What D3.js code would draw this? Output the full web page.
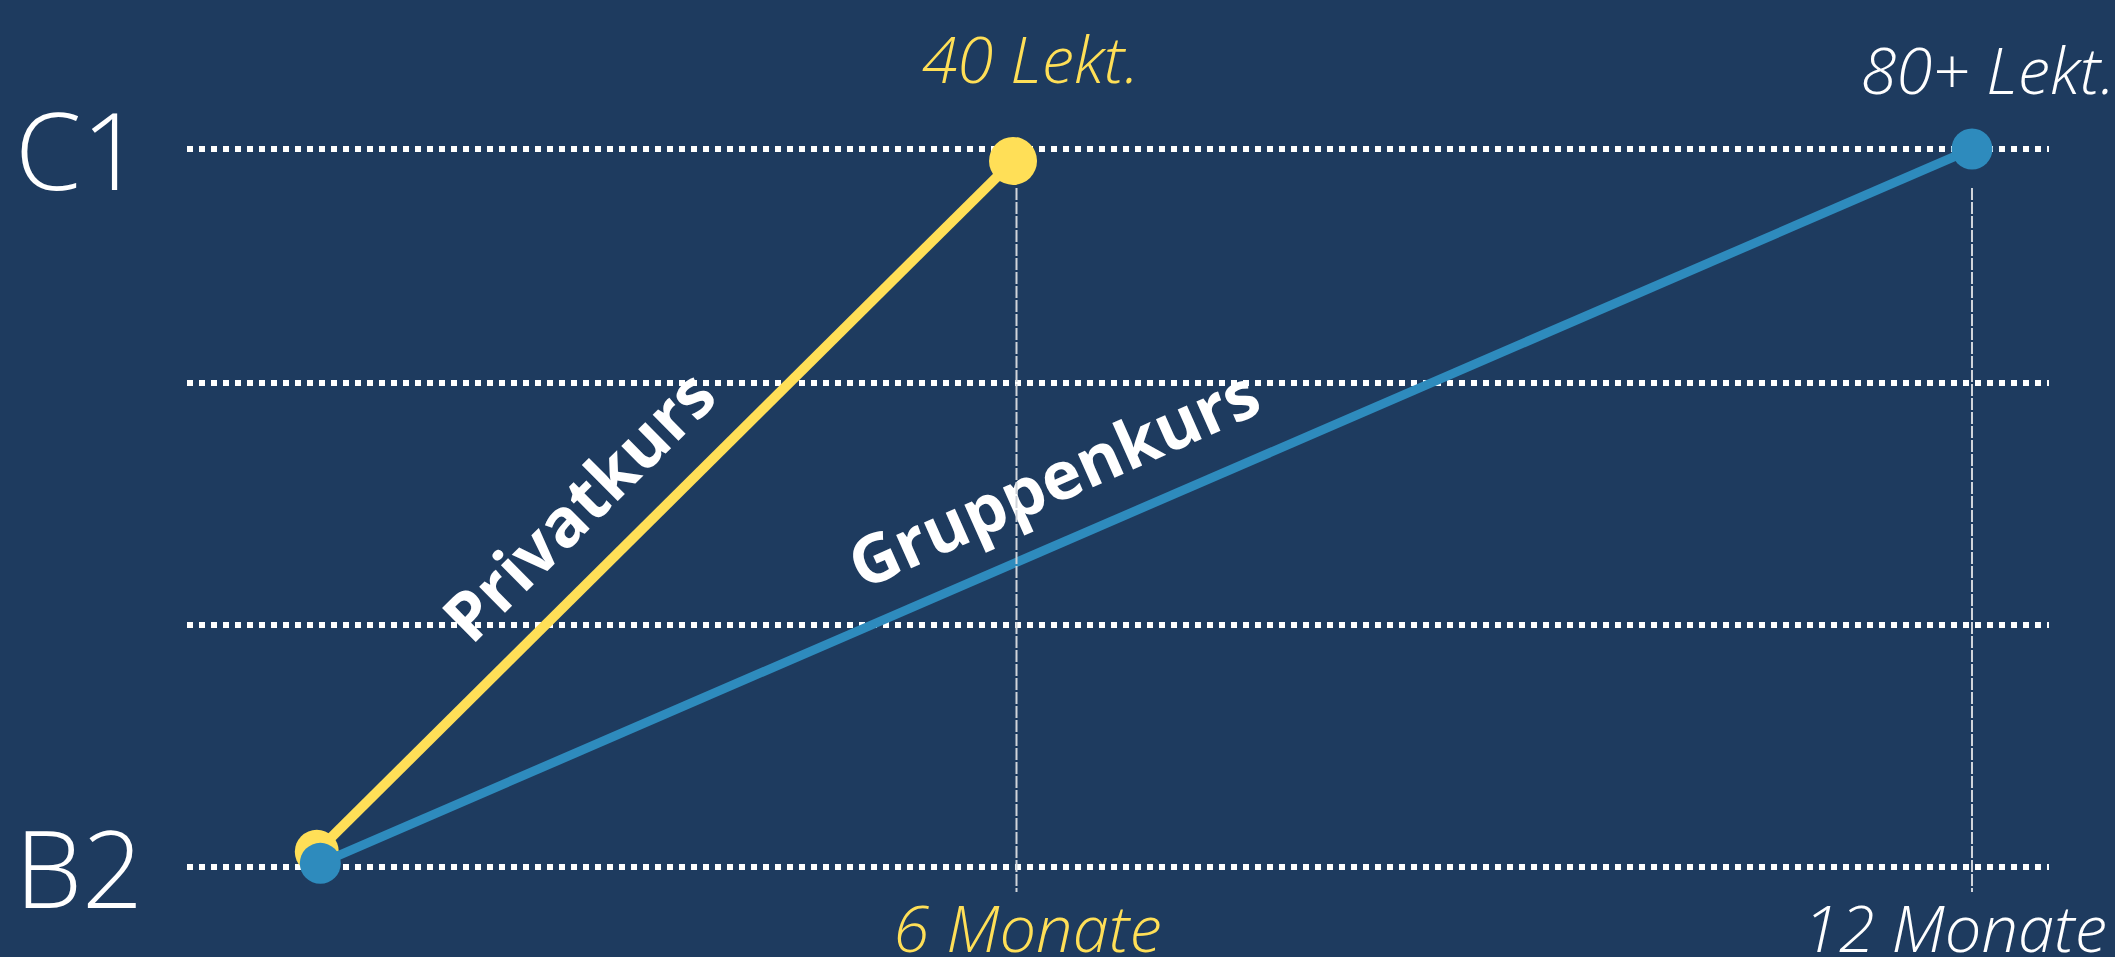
<!DOCTYPE html>
<html>
<head>
<meta charset="utf-8">
<script src="https://cdn.jsdelivr.net/npm/d3@7"></script>
<style>
  html, body { margin: 0; padding: 0; background: #1e3b5f; overflow: hidden; }
  svg { display: block; }
</style>
</head>
<body>
<svg id="chart" width="2115" height="957"></svg>
<script>
// ---- data ----
const levelLabels = ["B2", "", "", "C1"];     // gridline levels 0..3
const levelValues = [0, 1, 2, 3];
const xTickMonths = [6, 12];
const xTickLabels = ["6 Monate", "12 Monate"];
const topLabels = ["40 Lekt.", "80+ Lekt."];
const seriesNames = ["Privatkurs", "Gruppenkurs"];
const privatMonths = [-0.03, 5.97];
const privatLevels = [0.063, 2.949];
const gruppenMonths = [0, 12];
const gruppenLevels = [0.015, 3.0];

// ---- layout ----
const W = 2115, H = 957;
const bg = "#1e3b5f", yellow = "#ffdf57", blue = "#2e8bbd";
const svg = d3.select("#chart");
svg.append("rect").attr("width", W).attr("height", H).attr("fill", bg);

const x = d3.scaleLinear().domain([0, 6, 12]).range([320.3, 1016.5, 1972]);
const y = d3.scaleLinear().domain([0, 2, 3]).range([867, 383, 149]);
const gridX0 = 187, gridX1 = 2049;

// horizontal dotted gridlines
svg.append("g").selectAll("line").data(levelValues).join("line")
  .attr("x1", gridX0).attr("x2", gridX1)
  .attr("y1", d => y(d)).attr("y2", d => y(d))
  .attr("stroke", "#ffffff").attr("stroke-width", 6)
  .attr("stroke-dasharray", "6,6");

// level labels
svg.append("g").selectAll("text").data(levelValues.filter(d => levelLabels[d])).join("text")
  .attr("x", 15).attr("y", d => y(d) + 41)
  .attr("fill", "#ffffff")
  .attr("font-family", "'Open Sans', sans-serif")
  .attr("font-weight", 300)
  .attr("font-size", 107)
  .text(d => levelLabels[d]);

const lineGen = d3.line().x(d => x(d[0])).y(d => y(d[1]));
const privat = privatMonths.map((m, i) => [m, privatLevels[i]]);
const gruppen = gruppenMonths.map((m, i) => [m, gruppenLevels[i]]);

// series
svg.append("path").datum(privat).attr("d", lineGen)
  .attr("fill", "none").attr("stroke", yellow).attr("stroke-width", 10);
svg.append("g").selectAll("circle").data(privat).join("circle")
  .attr("cx", d => x(d[0])).attr("cy", (d, i) => y(d[1]))
  .attr("r", (d, i) => i === 0 ? 22 : 24).attr("fill", yellow);
svg.append("path").datum(gruppen).attr("d", lineGen)
  .attr("fill", "none").attr("stroke", blue).attr("stroke-width", 9);
svg.append("g").selectAll("circle").data(gruppen).join("circle")
  .attr("cx", d => x(d[0])).attr("cy", d => y(d[1]))
  .attr("r", 20.5).attr("fill", blue);

// series labels along lines
function labelAlong(pts, t, offset, text, extraAngle) {
  const x0 = x(pts[0][0]), y0 = y(pts[0][1]), x1 = x(pts[1][0]), y1 = y(pts[1][1]);
  const dx = x1 - x0, dy = y1 - y0, len = Math.hypot(dx, dy);
  const ux = dx / len, uy = dy / len;
  const nx = uy, ny = -ux;
  const px = x0 + dx * t + nx * offset, py = y0 + dy * t + ny * offset;
  const ang = Math.atan2(dy, dx) * 180 / Math.PI + extraAngle;
  svg.append("text")
    .attr("transform", `translate(${px},${py}) rotate(${ang})`)
    .attr("text-anchor", "middle")
    .attr("fill", "#ffffff")
    .attr("font-family", "'Open Sans', sans-serif")
    .attr("font-weight", 700)
    .attr("font-size", 67)
    .text(text);
}
labelAlong(privat, 0.438, 37, seriesNames[0], 0);
labelAlong(gruppen, 0.459, 38, seriesNames[1], -0.6);

// vertical dashed guides
svg.append("g").selectAll("line").data(xTickMonths).join("line")
  .attr("x1", d => x(d)).attr("x2", d => x(d))
  .attr("y1", 188).attr("y2", 892)
  .attr("stroke", "#d0d4da").attr("stroke-width", 2)
  .attr("stroke-dasharray", "12,2");

// top labels (lessons)
const topColors = [yellow, "#ffffff"];
const topDx = [14, 16];
const topY = [83, 94];
svg.append("g").selectAll("text").data(xTickMonths).join("text")
  .attr("x", (d, i) => x(d) + topDx[i]).attr("y", (d, i) => topY[i])
  .attr("text-anchor", "middle")
  .attr("fill", (d, i) => topColors[i])
  .attr("font-family", "'Open Sans', sans-serif")
  .attr("font-weight", 300).attr("font-style", "italic")
  .attr("font-size", 65)
  .text((d, i) => topLabels[i]);

// bottom labels (months)
const botDx = [11, -17];
svg.append("g").selectAll("text").data(xTickMonths).join("text")
  .attr("x", (d, i) => x(d) + botDx[i]).attr("y", 952)
  .attr("text-anchor", "middle")
  .attr("fill", (d, i) => topColors[i])
  .attr("font-family", "'Open Sans', sans-serif")
  .attr("font-weight", 300).attr("font-style", "italic")
  .attr("font-size", 65)
  .text((d, i) => xTickLabels[i]);
</script>
</body>
</html>
